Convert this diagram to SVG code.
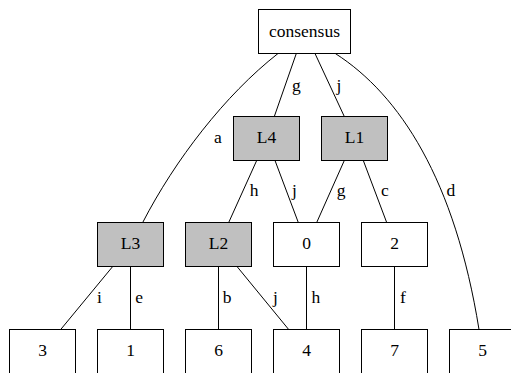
<svg xmlns="http://www.w3.org/2000/svg" width="511" height="373" viewBox="0 0 511 373" font-family="'Liberation Serif', 'Times New Roman', 'DejaVu Serif', serif" font-size="17.5">
<style>
.n rect{stroke:#000;stroke-width:1;fill:#fff}
.n.g rect{fill:#c0c0c0}
text{text-anchor:middle;fill:#000}
.e path{fill:none;stroke:#000;stroke-width:1}
</style>
<rect width="511" height="373" fill="#fff"/>
<g id="edges" class="e">
<path d="M278,53.5 C225,95 175,160 142.7,222.5"/>
<path d="M296.3,53.5 L274.3,116.5"/>
<path d="M315,53.5 L344.3,116.5"/>
<path d="M335.3,53.5 C400,95 455,180 479,329.5"/>
<path d="M256.7,160.5 L228.7,222.5"/>
<path d="M275,160.5 L298.3,222.5"/>
<path d="M344.3,160.5 L316.7,222.5"/>
<path d="M363.3,160.5 L386.7,222.5"/>
<path d="M112.7,266.5 L60.7,329.5"/>
<path d="M130.5,266.5 L130.5,329.5"/>
<path d="M218.5,266.5 L218.5,329.5"/>
<path d="M237,266.5 L288.7,329.5"/>
<path d="M306.5,266.5 L306.5,329.5"/>
<path d="M394.5,266.5 L394.5,329.5"/>
<text x="217.8" y="143.3">a</text>
<text x="296.3" y="91">g</text>
<text x="339" y="91">j</text>
<text x="450.8" y="196">d</text>
<text x="254.2" y="196">h</text>
<text x="294.5" y="196">j</text>
<text x="341.2" y="196">g</text>
<text x="385" y="196">c</text>
<text x="99.5" y="303.3">i</text>
<text x="139.2" y="303.3">e</text>
<text x="227.2" y="303.3">b</text>
<text x="275.5" y="303.3">j</text>
<text x="315.8" y="303.3">h</text>
<text x="403" y="303.3">f</text>
</g>
<g id="consensus" class="n"><rect x="258.5" y="9.5" width="92" height="44"/><text x="304.5" y="36.5">consensus</text></g>
<g id="L4" class="n g"><rect x="233.5" y="116.5" width="66" height="44"/><text x="266.5" y="143.3">L4</text></g>
<g id="L1" class="n g"><rect x="321.5" y="116.5" width="66" height="44"/><text x="354.5" y="143.3">L1</text></g>
<g id="L3" class="n g"><rect x="97.5" y="222.5" width="66" height="44"/><text x="130.5" y="249.3">L3</text></g>
<g id="L2" class="n g"><rect x="185.5" y="222.5" width="66" height="44"/><text x="218.5" y="249.3">L2</text></g>
<g id="n0" class="n"><rect x="273.5" y="222.5" width="66" height="44"/><text x="306.5" y="249.3">0</text></g>
<g id="n2" class="n"><rect x="361.5" y="222.5" width="66" height="44"/><text x="394.5" y="249.3">2</text></g>
<g id="n3" class="n"><rect x="9.5" y="329.5" width="66" height="44"/><text x="42.5" y="356.3">3</text></g>
<g id="n1" class="n"><rect x="97.5" y="329.5" width="66" height="44"/><text x="130.5" y="356.3">1</text></g>
<g id="n6" class="n"><rect x="185.5" y="329.5" width="66" height="44"/><text x="218.5" y="356.3">6</text></g>
<g id="n4" class="n"><rect x="273.5" y="329.5" width="66" height="44"/><text x="306.5" y="356.3">4</text></g>
<g id="n7" class="n"><rect x="361.5" y="329.5" width="66" height="44"/><text x="394.5" y="356.3">7</text></g>
<g id="n5" class="n"><rect x="449.5" y="329.5" width="66" height="44"/><text x="482.5" y="356.3">5</text></g>
</svg>
